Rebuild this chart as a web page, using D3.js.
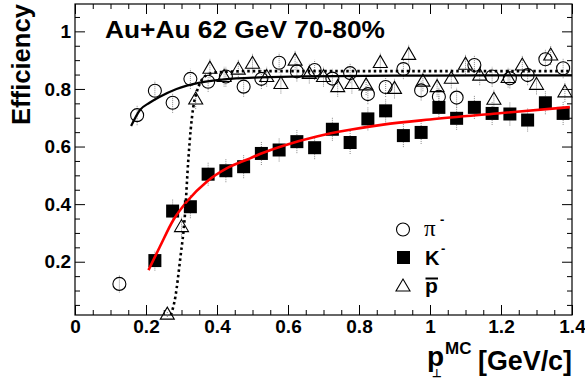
<!DOCTYPE html>
<html><head><meta charset="utf-8">
<script src="https://cdn.jsdelivr.net/npm/d3@7"></script>
<style>body{margin:0;background:#fff}svg{display:block}</style>
</head><body>
<script>
// ---- data ----
const piX = [0.125,0.175,0.225,0.275,0.325,0.375,0.425,0.475,0.525,0.575,0.625,0.675,0.725,0.775,0.825,0.875,0.925,0.975,1.025,1.075,1.125,1.175,1.225,1.275,1.325,1.375];
const piY = [0.123,0.709,0.794,0.752,0.835,0.825,0.843,0.808,0.835,0.891,0.861,0.866,0.836,0.855,0.782,0.807,0.869,0.795,0.773,0.770,0.883,0.843,0.837,0.848,0.903,0.872];
const piErr = [0.03,0.035,0.035,0.035,0.035,0.035,0.035,0.035,0.035,0.035,0.035,0.035,0.035,0.035,0.035,0.035,0.035,0.035,0.035,0.035,0.035,0.035,0.035,0.035,0.035,0.035];

const kX = [0.225,0.275,0.325,0.375,0.425,0.475,0.525,0.575,0.625,0.675,0.725,0.775,0.825,0.875,0.925,0.975,1.025,1.075,1.125,1.175,1.225,1.275,1.325,1.375];
const kY = [0.204,0.376,0.391,0.504,0.516,0.530,0.576,0.588,0.617,0.596,0.660,0.614,0.696,0.724,0.638,0.649,0.736,0.698,0.736,0.715,0.713,0.692,0.752,0.715];
const kErr = [0.035,0.04,0.04,0.04,0.04,0.04,0.04,0.04,0.04,0.04,0.04,0.04,0.04,0.04,0.04,0.04,0.04,0.04,0.04,0.04,0.04,0.04,0.04,0.04];

const pbarX = [0.26,0.30,0.34,0.38,0.42,0.46,0.50,0.54,0.58,0.62,0.66,0.70,0.74,0.78,0.82,0.86,0.90,0.94,0.98,1.02,1.06,1.10,1.14,1.18,1.22,1.26,1.30,1.34,1.38];
const pbarY = [0.018,0.322,0.765,0.872,0.843,0.869,0.889,0.843,0.819,0.900,0.854,0.843,0.808,0.819,0.814,0.892,0.802,0.920,0.827,0.808,0.837,0.886,0.848,0.764,0.840,0.883,0.816,0.918,0.790];
const pbarErr = [0.01,0.035,0.035,0.035,0.035,0.035,0.035,0.035,0.035,0.035,0.035,0.035,0.035,0.035,0.035,0.035,0.035,0.035,0.035,0.035,0.035,0.035,0.035,0.035,0.035,0.035,0.035,0.035,0.035];

// fit curves
const piFitX = [0.158,0.183,0.21,0.239,0.286,0.352,0.42,0.52,0.65,0.9,1.15,1.4];
const piFitY = [0.671,0.727,0.752,0.773,0.800,0.822,0.833,0.840,0.844,0.846,0.847,0.847];
const kFitX = [0.207,0.239,0.277,0.315,0.371,0.427,0.493,0.521,0.587,0.681,0.775,0.868,1.0,1.188,1.394];
const kFitY = [0.171,0.252,0.345,0.409,0.478,0.524,0.559,0.574,0.603,0.635,0.658,0.676,0.694,0.715,0.737];
const pbarFitX = [0.27,0.283,0.296,0.31,0.319,0.326,0.333,0.343,0.352,0.371,0.4,0.5,1.4];
const pbarFitY = [0.015,0.08,0.206,0.368,0.55,0.66,0.735,0.79,0.82,0.848,0.858,0.862,0.862];

const xTicks = [0,0.2,0.4,0.6,0.8,1,1.2,1.4];
const yTicks = [0.2,0.4,0.6,0.8,1];
const titleText = "Au+Au 62 GeV 70-80%";

// ---- drawing ----
const W = 585, H = 379;
const L = 75, R = 572, T = 4, B = 315;
const x = d3.scaleLinear().domain([0,1.4]).range([L,R]);
const y = d3.scaleLinear().domain([0.015,1.095]).range([B,T]);
const svg = d3.select("body").append("svg").attr("width",W).attr("height",H)
  .style("font-family","'Liberation Sans', Arial, sans-serif");

const xMinor = d3.range(0,29).map(i=>i*0.05).filter(v=>Math.abs(v/0.2-Math.round(v/0.2))>1e-6);
const yMinor = d3.range(1,22).map(i=>i*0.05).filter(v=>v>0.015 && v<1.095 && Math.abs(v/0.2-Math.round(v/0.2))>1e-6);

function styleAxis(g){ g.select(".domain").remove(); g.selectAll("line").attr("stroke","#000"); }
const labelStyle = g=>g.selectAll("text").attr("font-size",19).attr("font-weight","bold").attr("fill","#000").attr("font-family","'Liberation Sans', Arial, sans-serif");

// bottom
svg.append("g").attr("transform",`translate(0,${B})`)
  .call(d3.axisBottom(x).tickValues(xTicks).tickSizeInner(-10).tickSizeOuter(0).tickPadding(5).tickFormat(d3.format("~g")))
  .call(styleAxis).call(labelStyle);
svg.append("g").attr("transform",`translate(0,${B})`)
  .call(d3.axisBottom(x).tickValues(xMinor).tickSizeInner(-5).tickSizeOuter(0).tickFormat(""))
  .call(styleAxis);
// top
svg.append("g").attr("transform",`translate(0,${T})`)
  .call(d3.axisTop(x).tickValues(xTicks).tickSizeInner(-10).tickSizeOuter(0).tickFormat(""))
  .call(styleAxis);
svg.append("g").attr("transform",`translate(0,${T})`)
  .call(d3.axisTop(x).tickValues(xMinor).tickSizeInner(-5).tickSizeOuter(0).tickFormat(""))
  .call(styleAxis);
// left
svg.append("g").attr("transform",`translate(${L},0)`)
  .call(d3.axisLeft(y).tickValues(yTicks).tickSizeInner(-10).tickSizeOuter(0).tickPadding(4).tickFormat(d3.format("~g")))
  .call(styleAxis).call(labelStyle);
svg.append("g").attr("transform",`translate(${L},0)`)
  .call(d3.axisLeft(y).tickValues(yMinor).tickSizeInner(-5).tickSizeOuter(0).tickFormat(""))
  .call(styleAxis);
// right
svg.append("g").attr("transform",`translate(${R},0)`)
  .call(d3.axisRight(y).tickValues(yTicks).tickSizeInner(-10).tickSizeOuter(0).tickFormat(""))
  .call(styleAxis);
svg.append("g").attr("transform",`translate(${R},0)`)
  .call(d3.axisRight(y).tickValues(yMinor).tickSizeInner(-5).tickSizeOuter(0).tickFormat(""))
  .call(styleAxis);
// frame
svg.append("rect").attr("x",L).attr("y",T).attr("width",R-L).attr("height",B-T)
  .attr("fill","none").attr("stroke","#000").attr("stroke-width",1.2);

// error bars
function errs(xs,ys,es){
  svg.append("g").selectAll("line").data(xs).join("line")
    .attr("x1",(d)=>x(d)).attr("x2",(d)=>x(d))
    .attr("y1",(d,i)=>y(ys[i]-es[i])).attr("y2",(d,i)=>y(ys[i]+es[i]))
    .attr("stroke","#888").attr("stroke-width",1).attr("stroke-dasharray","1,1");
}
errs(piX,piY,piErr); errs(kX,kY,kErr); errs(pbarX,pbarY,pbarErr);

// markers
const tri = (cx,cy)=>`M${cx-7},${cy+5}L${cx+7},${cy+5}L${cx},${cy-7}Z`;
svg.append("g").selectAll("rect").data(kX).join("rect")
  .attr("x",d=>x(d)-6.5).attr("y",(d,i)=>y(kY[i])-6.5).attr("width",13).attr("height",13).attr("fill","#000");
svg.append("g").selectAll("circle").data(piX).join("circle")
  .attr("cx",d=>x(d)).attr("cy",(d,i)=>y(piY[i])).attr("r",6.5)
  .attr("fill","none").attr("stroke","#000").attr("stroke-width",1.1);
svg.append("g").selectAll("path").data(pbarX).join("path")
  .attr("d",(d,i)=>tri(x(d),y(pbarY[i])))
  .attr("fill","none").attr("stroke","#000").attr("stroke-width",1.1);

// fit curves
const line = d3.line().curve(d3.curveMonotoneX);
svg.append("path").attr("d",line(piFitX.map((v,i)=>[x(v),y(piFitY[i])])))
  .attr("fill","none").attr("stroke","#000").attr("stroke-width",2.2);
svg.append("path").attr("d",line(kFitX.map((v,i)=>[x(v),y(kFitY[i])])))
  .attr("fill","none").attr("stroke","#ff0000").attr("stroke-width",2.6);
svg.append("path").attr("d",line(pbarFitX.map((v,i)=>[x(v),y(pbarFitY[i])])))
  .attr("fill","none").attr("stroke","#000").attr("stroke-width",2.6).attr("stroke-dasharray","2.5,3");

// title
svg.append("text").attr("x",105).attr("y",38).attr("font-size",24).attr("font-weight","bold")
  .attr("textLength",280).attr("lengthAdjust","spacingAndGlyphs").text(titleText);

// y title
svg.append("text").attr("transform","translate(30,4) rotate(-90)").attr("text-anchor","end")
  .attr("font-size",25).attr("font-weight","bold").attr("textLength",121).attr("lengthAdjust","spacingAndGlyphs")
  .text("Efficiency");

// x title
svg.append("text").attr("x",427).attr("y",366).attr("font-size",28).attr("font-weight","bold").text("p");
svg.append("text").attr("x",437).attr("y",377).attr("font-size",11).attr("font-weight","bold").attr("text-anchor","middle").text("⊥");
svg.append("text").attr("x",445).attr("y",354).attr("font-size",17).attr("font-weight","bold").text("MC");
svg.append("text").attr("x",478).attr("y",370).attr("font-size",27).attr("font-weight","bold")
  .attr("textLength",94).attr("lengthAdjust","spacingAndGlyphs").text("[GeV/c]");

// legend
const lg = svg.append("g");
lg.append("circle").attr("cx",403).attr("cy",229.5).attr("r",6.5).attr("fill","none").attr("stroke","#000").attr("stroke-width",1.1);
lg.append("rect").attr("x",397).attr("y",251).attr("width",13).attr("height",13).attr("fill","#000");
lg.append("path").attr("d",tri(403,286)).attr("fill","none").attr("stroke","#000").attr("stroke-width",1.1);
lg.append("text").attr("x",424).attr("y",236).attr("font-size",23).attr("font-family","'Liberation Serif', 'DejaVu Serif', serif").text("π");
lg.append("text").attr("x",440).attr("y",224).attr("font-size",13).attr("font-weight","bold").text("-");
lg.append("text").attr("x",425).attr("y",265).attr("font-size",20).attr("font-weight","bold").text("K");
lg.append("text").attr("x",441).attr("y",253).attr("font-size",13).attr("font-weight","bold").text("-");
lg.append("text").attr("x",425).attr("y",293).attr("font-size",21).attr("font-weight","bold").text("p");
lg.append("line").attr("x1",425.5).attr("x2",438).attr("y1",278.5).attr("y2",278.5).attr("stroke","#000").attr("stroke-width",2);
</script>
</body></html>
